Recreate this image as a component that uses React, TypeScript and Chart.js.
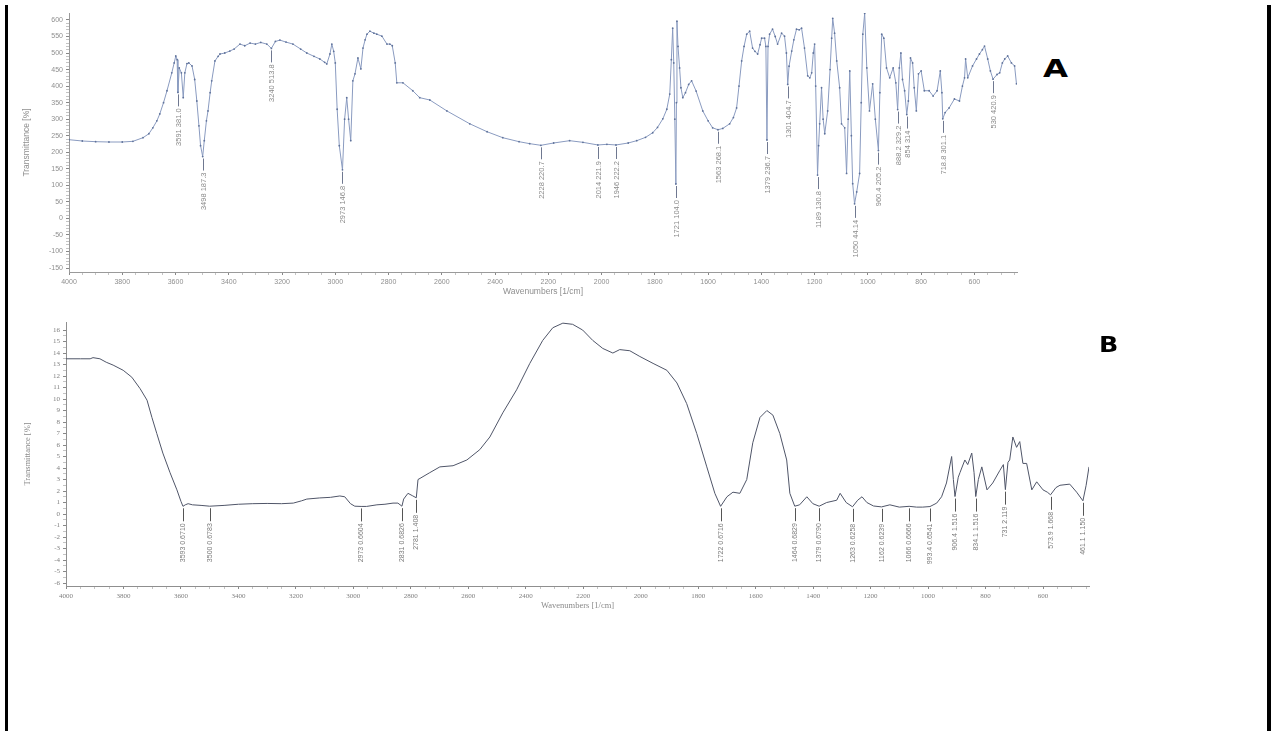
import React, { useEffect, useRef } from "react";
import { Chart, registerables } from "chart.js";

Chart.register(...registerables);

// ---------- Panel A ----------
const aWavenumbers = [
  4000, 3950, 3900, 3850, 3800, 3760, 3722, 3700, 3685, 3670, 3659, 3645, 3632, 3614, 3605, 3599, 3594, 3591, 3586, 3578,
  3571, 3565, 3557, 3550, 3538, 3528, 3520, 3512, 3506, 3498, 3492, 3484, 3478, 3470, 3464, 3452, 3440, 3433, 3415, 3396,
  3380, 3358, 3340, 3320, 3300, 3280, 3257, 3240, 3225, 3208, 3185, 3159, 3130, 3107, 3080, 3058, 3040, 3032, 3020, 3013,
  3006, 3000, 2993, 2985, 2973, 2965, 2957, 2950, 2942, 2934, 2926, 2915, 2904, 2896, 2888, 2881, 2870, 2855, 2844, 2825,
  2806, 2795, 2786, 2775, 2769, 2746, 2709, 2683, 2645, 2581, 2495, 2430, 2371, 2310, 2270, 2228, 2180, 2120, 2070, 2014,
  1980, 1946, 1900, 1868, 1835, 1808, 1790, 1770, 1755, 1744, 1738, 1733, 1729, 1725, 1721, 1719, 1717, 1713, 1707, 1702,
  1695, 1685, 1673, 1662, 1645, 1620, 1600, 1583, 1563, 1545, 1519, 1505, 1493, 1484, 1474, 1465, 1455, 1444, 1433, 1424,
  1414, 1405, 1399, 1388, 1383, 1379, 1375, 1369, 1358, 1348, 1339, 1324, 1313, 1306, 1301, 1296, 1286, 1278, 1268, 1258,
  1249, 1238, 1226, 1218, 1211, 1205, 1200, 1196, 1189, 1185, 1181, 1174, 1168, 1162, 1151, 1142, 1136, 1132, 1125, 1117,
  1106, 1099, 1087, 1080, 1074, 1068, 1062, 1057, 1050, 1042, 1031, 1025, 1019, 1012, 1004, 994, 982, 972, 960.4, 955,
  948, 940, 930, 918, 905, 895, 888.2, 882, 876, 870, 862, 854, 848, 840, 832, 826, 818, 810, 800, 788,
  770, 755, 740, 728, 722, 718.8, 710, 695, 675, 656, 645, 637, 633, 625, 607, 592, 581, 570, 562, 550,
  540, 530, 515, 505, 495, 486, 475, 461, 449, 442,
];
const aTransmittance = [
  238, 234, 232, 231, 231, 233, 244, 256, 274, 295, 316, 350, 386, 440, 470, 491, 480, 381, 455, 440,
  365, 440, 468, 470, 461, 420, 355, 280, 220, 187, 235, 295, 325, 380, 416, 476, 490, 497, 500, 506,
  512, 527, 522, 530, 527, 532, 527, 514, 535, 539, 533, 527, 512, 500, 490, 482, 472, 467, 497, 527,
  505, 470, 330, 220, 147, 300, 365, 300, 235, 416, 437, 485, 452, 515, 540, 557, 566, 560, 557, 551,
  527, 527, 522, 470, 410, 410, 386, 365, 358, 325, 286, 262, 244, 232, 226, 221, 228, 235, 230, 222,
  224, 222, 228, 235, 245, 259, 275, 301, 330, 376, 480, 575, 470, 300, 104, 350, 596, 520, 455, 395,
  365, 380, 405, 416, 385, 325, 295, 274, 268, 272, 286, 305, 334, 400, 476, 520, 557, 566, 515, 505,
  497, 525, 545, 545, 520, 237, 520, 557, 572, 550, 527, 560, 551, 500, 405, 460, 506, 540, 572, 570,
  575, 515, 431, 425, 440, 500, 527, 400, 131, 220, 286, 395, 300, 256, 325, 450, 545, 605, 560, 476,
  395, 286, 274, 136, 300, 446, 250, 105, 44, 80, 136, 350, 557, 620, 455, 325, 407, 300, 205, 380,
  557, 545, 455, 425, 455, 410, 329, 455, 500, 420, 386, 314, 355, 485, 470, 395, 325, 437, 446, 386,
  386, 370, 386, 446, 380, 301, 320, 334, 361, 355, 400, 425, 482, 425, 461, 482, 497, 510, 521, 482,
  446, 421, 435, 440, 470, 482, 491, 470, 461, 407,
];
const aPeakWavenumbers = [3591, 3498, 3240, 2973, 2228, 2014, 1946, 1721, 1563, 1379, 1301, 1189, 1050, 960.4, 888.2, 854, 718.8, 530];
const aPeakValues = [381, 187, 514, 147, 221, 222, 222, 104, 268, 237, 405, 131, 44, 205, 329, 314, 301, 421];
const aPeakLabels = [
  "3591 381.0", "3498 187.3", "3240 513.8", "2973 146.8", "2228 220.7", "2014 221.9", "1946 222.2", "1721 104.0",
  "1563 268.1", "1379 236.7", "1301 404.7", "1189 130.8", "1050 44.14", "960.4 205.2", "888.2 329.2", "854 314",
  "718.8 301.1", "530 420.9",
];

// ---------- Panel B ----------
const bWavenumbers = [
  4000, 3950, 3916, 3906, 3882, 3860, 3836, 3801, 3771, 3742, 3718, 3701, 3684, 3663, 3638, 3614, 3600, 3593, 3585, 3575,
  3560, 3530, 3500, 3450, 3400, 3350, 3300, 3250, 3209, 3180, 3162, 3117, 3080, 3047, 3030, 3010, 2995, 2973, 2954, 2918,
  2890, 2862, 2845, 2831, 2825, 2810, 2795, 2781, 2775, 2768, 2734, 2699, 2653, 2605, 2560, 2525, 2480, 2432, 2386, 2341,
  2306, 2271, 2237, 2202, 2167, 2132, 2097, 2073, 2038, 2003, 1957, 1909, 1874, 1840, 1805, 1770, 1742, 1722, 1700, 1679,
  1655, 1631, 1610, 1585, 1561, 1540, 1516, 1492, 1481, 1464, 1447, 1422, 1401, 1379, 1353, 1318, 1306, 1285, 1263, 1245,
  1230, 1213, 1190, 1162, 1133, 1100, 1066, 1040, 1019, 993.4, 970, 953, 936, 918, 912, 906.4, 895, 889, 872, 862,
  848, 840, 834.1, 825, 813, 795, 775, 750, 738, 731, 722, 716, 705, 692, 681, 670, 657, 639, 622, 600,
  585, 573.9, 555, 541, 507, 483, 461.1, 450, 440,
];
const bTransmittance = [
  13.5, 13.5, 13.5, 13.6, 13.5, 13.2, 12.95, 12.5, 11.9, 10.9, 9.9, 8.4, 7.0, 5.3, 3.6, 2.1, 1.1, 0.67, 0.8, 0.9,
  0.8, 0.75, 0.68, 0.75, 0.85, 0.9, 0.92, 0.9, 0.95, 1.15, 1.3, 1.4, 1.45, 1.57, 1.5, 0.9, 0.68, 0.66, 0.66, 0.8,
  0.85, 0.95, 0.95, 0.68, 1.3, 1.8, 1.6, 1.41, 3.0, 3.1, 3.6, 4.1, 4.2, 4.7, 5.6, 6.7, 8.8, 10.8, 13.1, 15.1,
  16.2, 16.6, 16.5, 16.0, 15.1, 14.4, 14.0, 14.3, 14.2, 13.7, 13.1, 12.5, 11.4, 9.6, 7.0, 4.1, 1.8, 0.67, 1.5, 1.9,
  1.8, 3.0, 6.2, 8.4, 9.0, 8.6, 7.0, 4.7, 1.8, 0.68, 0.8, 1.5, 0.9, 0.68, 1.0, 1.2, 1.8, 1.0, 0.63, 1.2,
  1.5, 1.0, 0.7, 0.62, 0.8, 0.6, 0.67, 0.6, 0.6, 0.65, 0.95, 1.5, 2.7, 5.0, 3.0, 1.52, 3.2, 3.6, 4.7, 4.3,
  5.3, 3.6, 1.52, 3.0, 4.1, 2.1, 2.7, 3.8, 4.3, 2.12, 4.5, 4.7, 6.7, 5.8, 6.3, 4.4, 4.4, 2.1, 2.8, 2.1,
  1.9, 1.67, 2.3, 2.5, 2.6, 1.9, 1.15, 2.5, 4.1,
];
const bPeakWavenumbers = [3593, 3500, 2973, 2831, 2781, 1722, 1464, 1379, 1263, 1162, 1066, 993.4, 906.4, 834.1, 731, 573.9, 461.1];
const bPeakValues = [0.671, 0.6783, 0.6604, 0.6826, 1.408, 0.6716, 0.6829, 0.679, 0.6258, 0.6239, 0.6666, 0.6541, 1.516, 1.516, 2.119, 1.668, 1.15];
const bPeakLabels = [
  "3593 0.6710", "3500 0.6783", "2973 0.6604", "2831 0.6826", "2781 1.408", "1722 0.6716", "1464 0.6829", "1379 0.6790",
  "1263 0.6258", "1162 0.6239", "1066 0.6666", "993.4 0.6541", "906.4 1.516", "834.1 1.516", "731 2.119", "573.9 1.668",
  "461.1 1.150",
];

// ---------- Axis tick lists ----------
const xTickValues: number[] = [];
for (let v = 4000; v >= 450; v -= 50) xTickValues.push(v);
const aYTickValues: number[] = [];
for (let v = -150; v <= 600; v += 10) aYTickValues.push(v);
const bYTickValues: number[] = [];
for (let v = -6; v <= 16; v += 0.5) bYTickValues.push(v);

function makePeakPlugin(id: string, positions: number[], values: number[], labels: string[], style: any) {
  return {
    id,
    afterDatasetsDraw(chart: any) {
      const { ctx, scales } = chart;
      positions.forEach((w, i) => {
        const x = Math.round(scales.x.getPixelForValue(w)) + 0.5;
        const y = scales.y.getPixelForValue(values[i]);
        const y0 = y + 2;
        const y1 = y0 + style.dash;
        ctx.save();
        ctx.strokeStyle = style.lineColor;
        ctx.lineWidth = 1;
        ctx.beginPath();
        ctx.moveTo(x, y0);
        ctx.lineTo(x, y1);
        ctx.stroke();
        ctx.translate(x, y1 + 2);
        ctx.rotate(-Math.PI / 2);
        ctx.font = style.font;
        ctx.fillStyle = style.textColor;
        ctx.textAlign = "right";
        ctx.textBaseline = "middle";
        ctx.fillText(labels[i], 0, 0);
        ctx.restore();
      });
    },
  };
}

function buildConfig(p: any) {
  return {
    type: "line",
    data: {
      datasets: [
        {
          data: p.w.map((w: number, i: number) => ({ x: w, y: p.t[i] })),
          borderColor: p.lineColor,
          borderWidth: p.lineWidth,
          pointRadius: p.pointRadius,
          pointBackgroundColor: p.pointColor,
          pointBorderWidth: 0,
          tension: 0,
          fill: false,
        },
      ],
    },
    options: {
      animation: false,
      responsive: false,
      devicePixelRatio: 1,
      layout: { padding: { top: p.padTop, right: p.padRight, left: 0, bottom: 0 } },
      plugins: { legend: { display: false }, tooltip: { enabled: false } },
      scales: {
        x: {
          type: "linear",
          reverse: true,
          min: p.xMin,
          max: 4000,
          afterBuildTicks: (s: any) => {
            s.ticks = xTickValues.map((v) => ({ value: v }));
          },
          afterFit: (s: any) => {
            s.height = p.xAxisHeight;
          },
          ticks: {
            autoSkip: false,
            maxRotation: 0,
            padding: 3,
            color: p.tickColor,
            font: { family: p.fontFamily, size: 7 },
            callback: (v: number) => (v % 200 === 0 && v >= 600 ? String(v) : ""),
          },
          grid: {
            drawOnChartArea: false,
            drawTicks: true,
            tickLength: 3,
            color: "#bbbbbb",
            tickColor: (c: any) => (c.tick && c.tick.value % 200 === 0 ? "#888888" : "#c4c4c4"),
          },
          border: { display: true, color: p.axisColor, width: 1 },
          title: {
            display: true,
            text: "Wavenumbers [1/cm]",
            color: p.titleColor,
            font: { family: p.fontFamily, size: 8.5 },
            padding: { top: 0, bottom: p.xTitlePad },
          },
        },
        y: {
          type: "linear",
          min: p.yMin,
          max: p.yMax,
          afterBuildTicks: (s: any) => {
            s.ticks = p.yTicks.map((v: number) => ({ value: v }));
          },
          afterFit: (s: any) => {
            s.width = p.yAxisWidth;
          },
          ticks: {
            autoSkip: false,
            padding: 3,
            color: p.tickColor,
            font: { family: p.fontFamily, size: 7 },
            callback: (v: number) => (Math.abs(v % p.yLabelStep) < 1e-9 ? String(v) : ""),
          },
          grid: {
            drawOnChartArea: false,
            drawTicks: true,
            tickLength: 3,
            color: "#bbbbbb",
            tickColor: (c: any) =>
              c.tick && Math.abs(c.tick.value % p.yLabelStep) < 1e-9 ? "#888888" : "#c4c4c4",
          },
          border: { display: true, color: p.axisColor, width: 1 },
          title: {
            display: true,
            text: "Transmittance [%]",
            color: p.titleColor,
            font: { family: p.fontFamily, size: 8.5 },
            padding: { top: p.yTitlePad, bottom: 0 },
          },
        },
      },
    },
    plugins: [p.peakPlugin],
  };
}

function SpectrumPanel(props: { cfg: any; width: number; height: number; top: number }) {
  const ref = useRef<HTMLCanvasElement | null>(null);
  useEffect(() => {
    if (!ref.current) return;
    const chart = new Chart(ref.current, buildConfig(props.cfg) as any);
    return () => chart.destroy();
  }, []);
  return (
    <canvas
      ref={ref}
      width={props.width}
      height={props.height}
      style={{ position: "absolute", left: 0, top: props.top, width: props.width, height: props.height }}
    />
  );
}

export default function App() {
  const cfgA = {
    w: aWavenumbers,
    t: aTransmittance,
    lineColor: "#8a9bc0",
    lineWidth: 1,
    pointRadius: 0.9,
    pointColor: "#5f729a",
    padTop: 13,
    padRight: 18,
    xMin: 440,
    xAxisHeight: 28,
    yAxisWidth: 69,
    yMin: -162,
    yMax: 621,
    yTicks: aYTickValues,
    yLabelStep: 50,
    tickColor: "#8f8f8f",
    titleColor: "#8f8f8f",
    axisColor: "#9a9a9a",
    fontFamily: "Liberation Sans",
    xTitlePad: 3,
    yTitlePad: 22,
    peakPlugin: makePeakPlugin("peaksA", aPeakWavenumbers, aPeakValues, aPeakLabels, {
      dash: 12,
      lineColor: "#6f7890",
      textColor: "#8a8a8a",
      font: "7.5px 'Liberation Sans'",
    }),
  };
  const cfgB = {
    w: bWavenumbers,
    t: bTransmittance,
    lineColor: "#4f5568",
    lineWidth: 1,
    pointRadius: 0,
    pointColor: "#4f5568",
    padTop: 22,
    padRight: 21,
    xMin: 440,
    xAxisHeight: 34,
    yAxisWidth: 66,
    yMin: -6.26,
    yMax: 16.7,
    yTicks: bYTickValues,
    yLabelStep: 1,
    tickColor: "#7f7f7f",
    titleColor: "#8a8a8a",
    axisColor: "#8f8f8f",
    fontFamily: "Liberation Serif",
    xTitlePad: 9,
    yTitlePad: 23,
    peakPlugin: makePeakPlugin("peaksB", bPeakWavenumbers, bPeakValues, bPeakLabels, {
      dash: 13,
      lineColor: "#555555",
      textColor: "#7a7a7a",
      font: "7px 'Liberation Sans'",
    }),
  };
  return (
    <div style={{ position: "absolute", left: 0, top: 0, width: 1274, height: 731, background: "#ffffff", overflow: "hidden" }}>
      <div style={{ position: "absolute", left: 5, top: 5, width: 3, height: 726, background: "#000" }} />
      <div style={{ position: "absolute", left: 1267, top: 5, width: 4, height: 726, background: "#000" }} />
      <SpectrumPanel cfg={cfgA} width={1035} height={300} top={0} />
      <SpectrumPanel cfg={cfgB} width={1110} height={320} top={300} />
      <div
        style={{
          position: "absolute",
          left: 1043,
          top: 57,
          fontFamily: "'DejaVu Sans'",
          fontWeight: 900,
          fontSize: 24,
          lineHeight: "24px",
          color: "#000",
          transform: "scaleX(1.35)",
          transformOrigin: "left top",
        }}
      >
        A
      </div>
      <div
        style={{
          position: "absolute",
          left: 1099,
          top: 334,
          fontFamily: "'DejaVu Sans'",
          fontWeight: 900,
          fontSize: 22,
          lineHeight: "22px",
          color: "#000",
          transform: "scaleX(1.15)",
          transformOrigin: "left top",
        }}
      >
        B
      </div>
    </div>
  );
}
